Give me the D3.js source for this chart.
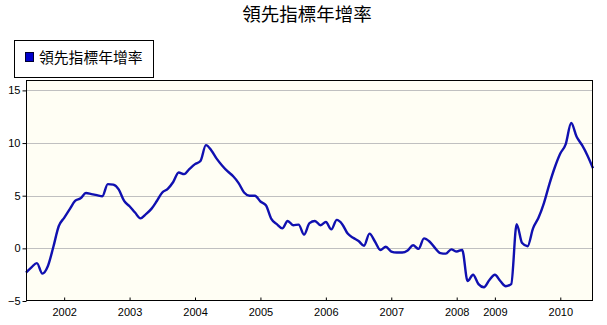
<!DOCTYPE html>
<html>
<head>
<meta charset="utf-8">
<script src="https://cdn.jsdelivr.net/npm/d3@7"></script>
<style>
  body { margin: 0; background: #fff; }
  text { font-family: "Liberation Sans", Arial, sans-serif; }
  .cjk { font-family: "Noto Sans CJK TC", "Noto Sans CJK SC", sans-serif; }
</style>
</head>
<body>
<svg></svg>
<script>
"use strict";

const title = "領先指標年增率";
const seriesName = "領先指標年增率";

// monthly points, starting mid 2001 (category axis)
const values = [
  -2.3, -1.8, -1.4, -2.4, -1.7, 0.1, 2.1, 2.9, 3.7, 4.5,
  4.75, 5.25, 5.15, 5.05, 4.95, 6.1, 6.05, 5.6, 4.5, 4.0,
  3.4, 2.85, 3.25, 3.75, 4.5, 5.3, 5.65, 6.3, 7.2, 7.05,
  7.55, 8.0, 8.3, 9.8, 9.3, 8.5, 7.85, 7.3, 6.85, 6.2,
  5.3, 5.0, 5.0, 4.45, 4.1, 2.8, 2.3, 1.9, 2.6, 2.2,
  2.25, 1.3, 2.4, 2.6, 2.2, 2.5, 1.8, 2.7, 2.3, 1.4,
  1.0, 0.7, 0.25, 1.4, 0.65, -0.15, 0.15, -0.3, -0.4, -0.4,
  -0.2, 0.3, -0.05, 0.95, 0.65, 0.05, -0.45, -0.5, -0.1, -0.3,
  -0.15, -3.1, -2.5, -3.4, -3.7, -3.0, -2.5, -3.1, -3.6, -3.4,
  2.3, 0.5, 0.2, 1.9, 2.9, 4.3, 6.1, 7.7, 9.0, 9.9,
  11.9, 10.6, 9.8, 8.8, 7.6
];

const yearLabels = ["2002", "2003", "2004", "2005", "2006", "2007", "2008", "2009", "2010"];
const yearIndex = [7, 19, 31, 43, 55, 67, 79, 86, 98];
const yTicks = [-5, 0, 5, 10, 15];

const width = 607;
const height = 325;
const plot = { left: 26, right: 593, top: 80, bottom: 301 };

const svg = d3.select("svg").attr("width", width).attr("height", height);

const xScale = d3.scaleLinear()
  .domain([0, values.length - 1])
  .range([plot.left, plot.right]);

const yScale = d3.scaleLinear()
  .domain([-5, 16])
  .range([plot.bottom, plot.bottom - 21 * 10.53]);

// title
svg.append("text")
  .attr("class", "cjk")
  .attr("x", 307)
  .attr("y", 21)
  .attr("text-anchor", "middle")
  .style("font-size", "18.5px")
  .attr("fill", "#000")
  .text(title);

// legend
svg.append("rect")
  .attr("x", 14.5).attr("y", 40.5)
  .attr("width", 139).attr("height", 37)
  .attr("fill", "#fff").attr("stroke", "#000");
svg.append("rect")
  .attr("x", 25.5).attr("y", 52.5)
  .attr("width", 8).attr("height", 9)
  .attr("fill", "#0000cc").attr("stroke", "#000033");
svg.append("text")
  .attr("class", "cjk")
  .attr("x", 39)
  .attr("y", 63)
  .style("font-size", "14.8px")
  .attr("fill", "#000")
  .text(seriesName);

// plot background
svg.append("rect")
  .attr("x", plot.left).attr("y", plot.top)
  .attr("width", plot.right - plot.left).attr("height", plot.bottom - plot.top)
  .attr("fill", "#fffef4");

// grid
svg.append("g")
  .selectAll("line")
  .data(yTicks.filter((d) => d > -5))
  .join("line")
  .attr("x1", plot.left).attr("x2", plot.right)
  .attr("y1", (d) => Math.round(yScale(d)) + 0.5)
  .attr("y2", (d) => Math.round(yScale(d)) + 0.5)
  .attr("stroke", "#c0c0c0");

// line
const line = d3.line()
  .x((d, i) => xScale(i))
  .y((d) => yScale(d))
  .curve(d3.curveMonotoneX);

svg.append("path")
  .datum(values)
  .attr("d", line)
  .attr("fill", "none")
  .attr("stroke", "#1010b0")
  .attr("stroke-width", 2.4)
  .attr("stroke-linejoin", "round");

// frame
svg.append("rect")
  .attr("x", plot.left + 0.5).attr("y", plot.top + 0.5)
  .attr("width", plot.right - plot.left - 1).attr("height", plot.bottom - plot.top - 1)
  .attr("fill", "none").attr("stroke", "#000");

// axes
const yAxis = d3.axisLeft(yScale)
  .tickValues(yTicks)
  .tickSize(4)
  .tickPadding(2);

svg.append("g")
  .attr("transform", `translate(${plot.left + 0.5},0)`)
  .call(yAxis)
  .call((g) => g.select(".domain").remove())
  .call((g) => g.selectAll("text").style("font-size", "11px").attr("fill", "#000"));

const xAxis = d3.axisBottom(xScale)
  .tickValues(yearIndex)
  .tickFormat((d, i) => yearLabels[i])
  .tickSizeInner(-3)
  .tickSizeOuter(0)
  .tickPadding(8);

svg.append("g")
  .attr("transform", `translate(0,${plot.bottom - 0.5})`)
  .call(xAxis)
  .call((g) => g.select(".domain").remove())
  .call((g) => g.selectAll("text").style("font-size", "11px").attr("fill", "#000"));
</script>
</body>
</html>
